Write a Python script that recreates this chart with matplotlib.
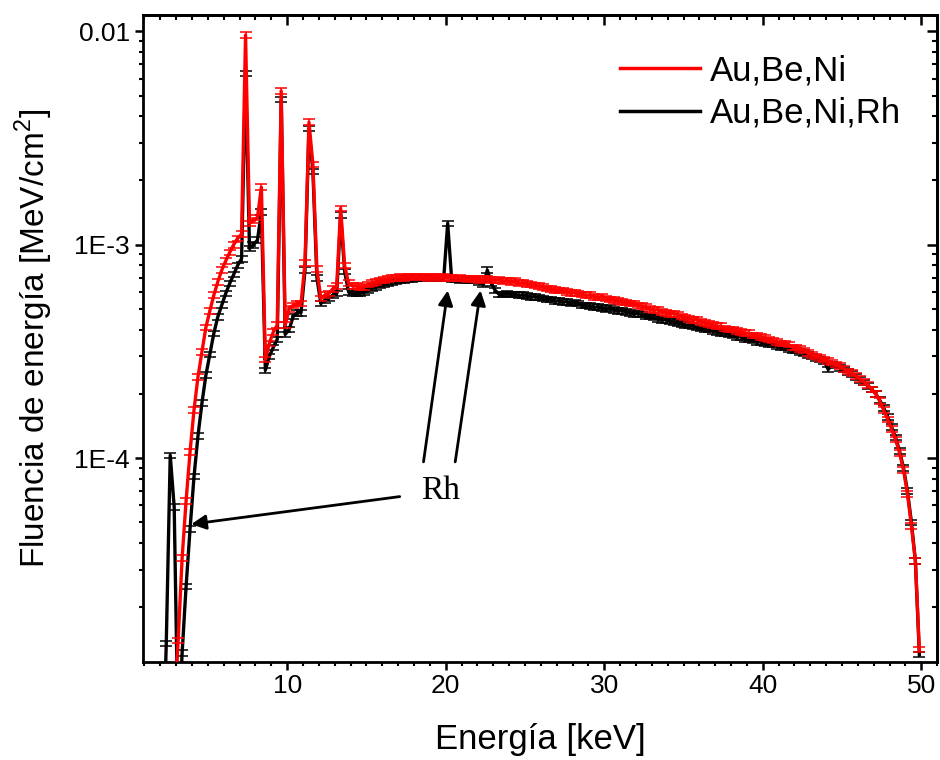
import numpy as np
import matplotlib
matplotlib.use("Agg")
import matplotlib.pyplot as plt
from matplotlib.lines import Line2D
from matplotlib.ticker import MultipleLocator, FixedLocator, FuncFormatter, LogLocator, NullFormatter

plt.rcParams['font.family'] = ['Liberation Sans', 'DejaVu Sans']
plt.rcParams['mathtext.fontset'] = 'custom'
plt.rcParams['mathtext.rm'] = 'Liberation Sans'

# bin centres of the 0.25 keV energy bins
energy_rh = np.arange(2.125, 50.0, 0.25)
energy_ni = np.arange(2.875, 50.0, 0.25)

# energy fluence per bin, in units of 1e-4 MeV/cm^2
fluence_ni = np.array([
    0.07, 0.14, 0.34, 0.63, 1.07, 1.68, 2.4, 3.15,           # 2.875 - 4.625
    4.1, 4.9, 5.8, 6.7, 7.6, 8.4, 9.2, 10.0,                 # 4.875 - 6.625
    10.7, 11.2, 96.0, 12.6, 13.0, 13.4, 18.6, 2.9,           # 6.875 - 8.625
    3.45, 3.9, 4.2, 52.5, 4.2, 5.0, 5.2, 5.3,                # 8.875 - 10.625
    5.3, 8.2, 37.5, 23.8, 7.7, 5.6, 5.8, 5.9,                # 10.875 - 12.625
    6.2, 6.4, 14.8, 8.0, 6.6, 6.4, 6.4, 6.3,                 # 12.875 - 14.625
    6.35, 6.5, 6.6, 6.7, 6.8, 6.85, 6.9, 7.0,                # 14.875 - 16.625
    7.0, 7.05, 7.0, 7.1, 7.05, 7.1, 7.05, 7.1,               # 16.875 - 18.625
    7.0, 7.05, 7.1, 7.0, 7.05, 7.0, 7.0, 6.95,               # 18.875 - 20.625
    7.0, 6.95, 6.9, 6.95, 6.9, 6.85, 6.9, 6.95,              # 20.875 - 22.625
    6.85, 6.8, 6.85, 6.75, 6.8, 6.7, 6.75, 6.6,              # 22.875 - 24.625
    6.65, 6.55, 6.5, 6.45, 6.4, 6.35, 6.25, 6.2,             # 24.875 - 26.625
    6.15, 6.1, 6.1, 6.0, 5.95, 5.95, 5.9, 5.85,              # 26.875 - 28.625
    5.8, 5.8, 5.7, 5.65, 5.7, 5.6, 5.55, 5.5,                # 28.875 - 30.625
    5.45, 5.4, 5.35, 5.3, 5.3, 5.2, 5.15, 5.1,               # 30.875 - 32.625
    5.0, 4.95, 4.95, 4.85, 4.8, 4.75, 4.75, 4.7,             # 32.875 - 34.625
    4.6, 4.55, 4.5, 4.45, 4.45, 4.35, 4.3, 4.25,             # 34.875 - 36.625
    4.2, 4.15, 4.15, 4.05, 4.0, 4.0, 3.95, 3.9,              # 36.875 - 38.625
    3.85, 3.85, 3.75, 3.75, 3.7, 3.65, 3.6, 3.55,            # 38.875 - 40.625
    3.5, 3.45, 3.45, 3.4, 3.3, 3.3, 3.25, 3.2,               # 40.875 - 42.625
    3.1, 3.05, 3.0, 2.95, 2.9, 2.85, 2.8, 2.75,              # 42.875 - 44.625
    2.7, 2.62, 2.55, 2.5, 2.42, 2.35, 2.28, 2.2,             # 44.875 - 46.625
    2.1, 2.0, 1.85, 1.68, 1.52, 1.37, 1.22, 1.06,            # 46.875 - 48.625
    0.88, 0.68, 0.48, 0.33, 0.127,                           # 48.875 - 49.875
]) * 1e-4

fluence_rh = np.array([
    0.03, 0.135, 1.03, 0.59, 0.047, 0.122, 0.25, 0.465,      # 2.125 - 3.875
    0.82, 1.27, 1.81, 2.45, 3.06, 3.84, 4.59, 5.21,          # 4.125 - 5.875
    5.91, 6.58, 7.24, 8.0, 8.6, 63.5, 9.6, 10.0,             # 6.125 - 7.875
    10.5, 14.2, 2.58, 3.0, 3.3, 3.6, 48.0, 3.8,              # 8.125 - 9.875
    4.0, 4.6, 4.8, 4.8, 7.6, 35.0, 22.0, 7.0,                # 10.125 - 11.875
    5.3, 5.5, 5.6, 5.8, 5.9, 13.8, 7.5, 6.0,                 # 12.125 - 13.875
    5.9, 5.9, 5.95, 6.0, 6.1, 6.25, 6.35, 6.45,              # 14.125 - 15.875
    6.55, 6.6, 6.7, 6.75, 6.8, 6.85, 6.9, 6.9,               # 16.125 - 17.875
    6.95, 6.95, 7.0, 6.95, 7.0, 7.0, 6.95, 6.95,             # 18.125 - 19.875
    12.6, 6.9, 6.9, 6.85, 6.9, 6.85, 6.8, 6.85,              # 20.125 - 21.875
    6.7, 6.5, 7.6, 6.6, 6.1, 5.85, 5.85, 5.9,                # 22.125 - 23.875
    5.85, 5.85, 5.8, 5.8, 5.75, 5.7, 5.7, 5.65,              # 24.125 - 25.875
    5.6, 5.55, 5.55, 5.45, 5.45, 5.4, 5.4, 5.3,              # 26.125 - 27.875
    5.35, 5.3, 5.2, 5.2, 5.15, 5.1, 5.1, 5.05,               # 28.125 - 29.875
    5.0, 5.05, 4.95, 4.9, 4.9, 4.85, 4.8, 4.75,              # 30.125 - 31.875
    4.75, 4.7, 4.6, 4.6, 4.55, 4.5, 4.45, 4.45,              # 32.125 - 33.875
    4.4, 4.35, 4.3, 4.25, 4.2, 4.2, 4.15, 4.1,               # 34.125 - 35.875
    4.05, 4.0, 4.0, 3.95, 3.9, 3.85, 3.85, 3.8,              # 36.125 - 37.875
    3.75, 3.7, 3.7, 3.6, 3.6, 3.55, 3.5, 3.5,                # 38.125 - 39.875
    3.45, 3.4, 3.4, 3.35, 3.3, 3.3, 3.25, 3.2,               # 40.125 - 41.875
    3.2, 3.15, 3.1, 3.05, 3.0, 2.95, 2.9, 2.85,              # 42.125 - 43.875
    2.6, 2.75, 2.72, 2.65, 2.6, 2.53, 2.48, 2.4,             # 44.125 - 45.875
    2.33, 2.26, 2.18, 2.1, 2.0, 1.87, 1.72, 1.56,            # 46.125 - 47.875
    1.4, 1.25, 1.08, 0.9, 0.7, 0.5, 0.33, 0.12,              # 48.125 - 49.875
]) * 1e-4

rel_err = 0.03  # relative statistical uncertainty of each bin

labels = ['Au,Be,Ni', 'Au,Be,Ni,Rh']
colors = ['#ff0000', '#000000']

y_ticks = [1e-4, 1e-3, 1e-2]
y_tick_text = {1e-4: '1E-4', 1e-3: '1E-3', 1e-2: '0.01'}

# Rh fluorescence lines marked with arrows: (tail, head) in data coordinates
rh_arrows = [
    ((17.1, 6.6e-5), (3.95, 4.9e-5)),
    ((18.6, 9.6e-5), (20.13, 6.1e-4)),
    ((20.6, 9.6e-5), (22.2, 6.1e-4)),
]
rh_label_pos = (19.65, 7.0e-5)

fig = plt.figure(figsize=(9.4, 7.6), dpi=100)
ax = fig.add_axes([0.152, 0.129, 0.845, 0.851])

err_kw = dict(lw=2.4, elinewidth=1.1, capsize=4.5, capthick=1.1)
ax.errorbar(energy_rh, fluence_rh, yerr=fluence_rh * rel_err, color=colors[1], zorder=3, **err_kw)
ax.errorbar(energy_ni, fluence_ni, yerr=fluence_ni * rel_err, color=colors[0], zorder=4, **err_kw)

ax.set_yscale('log')
ax.set_xlim(0.9, 51.0)
ax.set_ylim(1.108e-5, 1.19e-2)

ax.xaxis.set_major_locator(MultipleLocator(10))
ax.xaxis.set_minor_locator(MultipleLocator(1))
ax.yaxis.set_major_locator(FixedLocator(y_ticks))
ax.yaxis.set_major_formatter(FuncFormatter(lambda v, p: y_tick_text.get(v, '')))
ax.yaxis.set_minor_locator(LogLocator(base=10, subs=np.arange(2, 10)))
ax.yaxis.set_minor_formatter(NullFormatter())

ax.tick_params(which='major', direction='out', length=6, width=1.8, labelsize=19)
ax.tick_params(which='minor', direction='out', length=3, width=1.5)
ax.tick_params(axis='x', which='major', pad=3)
for sp in ax.spines.values():
    sp.set_linewidth(2.0)

# mirrored ticks pointing into the frame on top and right
top = ax.secondary_xaxis('top')
top.xaxis.set_major_locator(MultipleLocator(10))
top.xaxis.set_minor_locator(MultipleLocator(1))
top.tick_params(which='major', direction='in', length=7, width=1.8, labeltop=False)
top.tick_params(which='minor', direction='in', length=3.5, width=1.5)
top.spines['top'].set_linewidth(2.0)

right = ax.secondary_yaxis('right')
right.yaxis.set_major_locator(FixedLocator(y_ticks))
right.yaxis.set_minor_locator(LogLocator(base=10, subs=np.arange(2, 10)))
right.yaxis.set_minor_formatter(NullFormatter())
right.tick_params(which='major', direction='in', length=7, width=1.8, labelright=False)
right.tick_params(which='minor', direction='in', length=3.5, width=1.5)
right.spines['right'].set_linewidth(2.0)

ax.set_xlabel('Energía [keV]', fontsize=25, labelpad=18)
ax.set_ylabel('Fluencia de energía [MeV/cm$^2$]', fontsize=24, labelpad=14)

for tail, head in rh_arrows:
    ax.annotate('', xy=head, xytext=tail,
                arrowprops=dict(arrowstyle='-|>', color='black', lw=2.0,
                                mutation_scale=22, shrinkA=0, shrinkB=0))
ax.text(*rh_label_pos, 'Rh', family=['Liberation Serif'], fontsize=24,
        ha='center', va='center')

handles = [Line2D([], [], color=c, lw=2.5) for c in colors]
ax.legend(handles, labels, loc='upper left', bbox_to_anchor=(0.601, 0.94),
          frameon=False, fontsize=25, handlelength=2.3, handletextpad=0.28,
          labelspacing=0.28, borderpad=0, borderaxespad=0)

fig.savefig('out.png', dpi=100)
